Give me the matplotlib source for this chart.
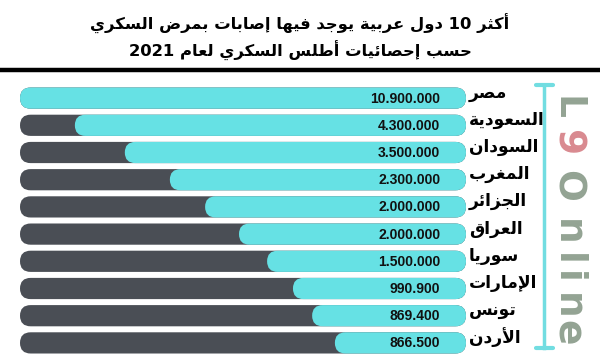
import re
import matplotlib
matplotlib.use("Agg")
import matplotlib.pyplot as plt
from matplotlib.patches import FancyBboxPatch

# data
countries = ["مصر", "السعودية", "السودان", "المغرب", "الجزائر",
             "العراق", "سوريا", "الإمارات", "تونس", "الأردن"]
cases = [10900000, 4300000, 3500000, 2300000, 2000000,
         2000000, 1500000, 990900, 869400, 866500]
# filled share of each track (%), as drawn in the infographic
fill_pct = [100, 87.7, 76.5, 66.4, 58.5, 50.9, 44.6, 38.8, 34.5, 29.4]

title1 = "أكثر 10 دول عربية يوجد فيها إصابات بمرض السكري"
title2 = "حسب إحصائيات أطلس السكري لعام 2021"

CYAN = "#66e1e4"
DARK = "#4a4e55"
SAGE = "#93a393"
ROSE = "#d98a90"

# --- minimal arabic shaping (matplotlib has no bidi / joining) ---
letters = "ءآأؤإئابةتثجحخدذرزسشصضطظعغفقكلمنهوىي"
right_join = set("آأؤإاةدذرزوى")
forms = {}
code = 0xFE80
for ch in letters:
    n = 1 if ch == "ء" else (2 if ch in right_join else 4)
    forms[ch] = (code, n)
    code += n
lam_alef = {"آ": 0xFEF5, "أ": 0xFEF7, "إ": 0xFEF9, "ا": 0xFEFB}


def dual(ch):
    return ch in forms and forms[ch][1] == 4


def shape(txt):
    out = []
    i = 0
    while i < len(txt):
        ch = txt[i]
        if ch not in forms:
            out.append(ch)
            i += 1
            continue
        prev_j = i > 0 and dual(txt[i - 1]) and forms[ch][1] > 1
        if ch == "ل" and i + 1 < len(txt) and txt[i + 1] in lam_alef:
            out.append(chr(lam_alef[txt[i + 1]] + (1 if prev_j else 0)))
            i += 2
            continue
        base, n = forms[ch]
        next_j = dual(ch) and i + 1 < len(txt) and txt[i + 1] in forms and forms[txt[i + 1]][1] > 1
        if n == 1:
            c = base
        elif n == 2:
            c = base + (1 if prev_j else 0)
        else:
            if prev_j and next_j:
                c = base + 3
            elif prev_j:
                c = base + 1
            elif next_j:
                c = base + 2
            else:
                c = base
        out.append(chr(c))
        i += 1
    vis = "".join(out)[::-1]
    return re.sub(r"[0-9A-Za-z.,]+", lambda m: m.group()[::-1], vis)


fig = plt.figure(figsize=(6, 3.6), dpi=100)
fig.patch.set_facecolor("white")

fig.text(0.5, 1 - 24 / 360, shape(title1), ha="center", va="center",
         fontsize=11.8, fontweight="bold", family="DejaVu Sans")
fig.text(0.5, 1 - 51 / 360, shape(title2), ha="center", va="center",
         fontsize=11.8, fontweight="bold", family="DejaVu Sans")
fig.add_artist(plt.Line2D([0, 1], [1 - 70 / 360, 1 - 70 / 360], color="black", lw=3.2,
                          transform=fig.transFigure))

# bars axes: x in % of track, filled from the right
n = len(countries)
ax_l, ax_r = 20, 466
pitch = 27.2
top = 84.5
ax = fig.add_axes([ax_l / 600, 1 - (top + n * pitch) / 360, (ax_r - ax_l) / 600, n * pitch / 360])
ax.set_xlim(100, 0)
ax.set_ylim(n - 0.5, -0.5)
ax.axis("off")

h = 0.78
px_x = 100 / (ax_r - ax_l)
px_y = 1 / pitch
aspect = px_y / px_x
r = h / 2 / aspect

for i in range(n):
    track = FancyBboxPatch((0, i - h / 2), 100, h,
                           boxstyle=f"round,pad=0,rounding_size={r}",
                           mutation_aspect=aspect, fc=DARK, ec="none")
    ax.add_patch(track)
    bar = FancyBboxPatch((0, i - h / 2), fill_pct[i], h,
                         boxstyle=f"round,pad=0,rounding_size={r}",
                         mutation_aspect=aspect, fc=CYAN, ec="none")
    ax.add_patch(bar)
    ax.text(5.8, i + 0.02, f"{cases[i]:,}".replace(",", "."), ha="right", va="center",
            fontsize=10, fontweight="bold", family="Liberation Sans", color="#111111")
    ax.text(-0.6, i - 0.2, shape(countries[i]), ha="left", va="center",
            fontsize=12.3, fontweight="bold", family="DejaVu Sans", color="black", clip_on=False)

# logo line
lx = 544 / 600
fig.add_artist(plt.Line2D([lx, lx], [1 - 85 / 360, 1 - 348 / 360], color="#72dde1", lw=2.5,
                          transform=fig.transFigure))
for yy in (85, 348):
    fig.add_artist(plt.Line2D([536 / 600, 553 / 600], [1 - yy / 360, 1 - yy / 360],
                              color="#72dde1", lw=3, solid_capstyle="round",
                              transform=fig.transFigure))

# vertical logo text
logo = [("L", 108, SAGE), ("9", 143, ROSE), ("O", 186, SAGE), ("n", 232, SAGE),
        ("l", 259, SAGE), ("i", 277, SAGE), ("n", 306, SAGE), ("e", 333, SAGE)]
for ch, yy, col in logo:
    fig.text(557 / 600, 1 - yy / 360, ch, rotation=-90, rotation_mode="anchor",
             ha="center", va="baseline", fontsize=27, fontweight="bold",
             family="DejaVu Sans", color=col)

fig.savefig("out.png", dpi=100, facecolor="white")
